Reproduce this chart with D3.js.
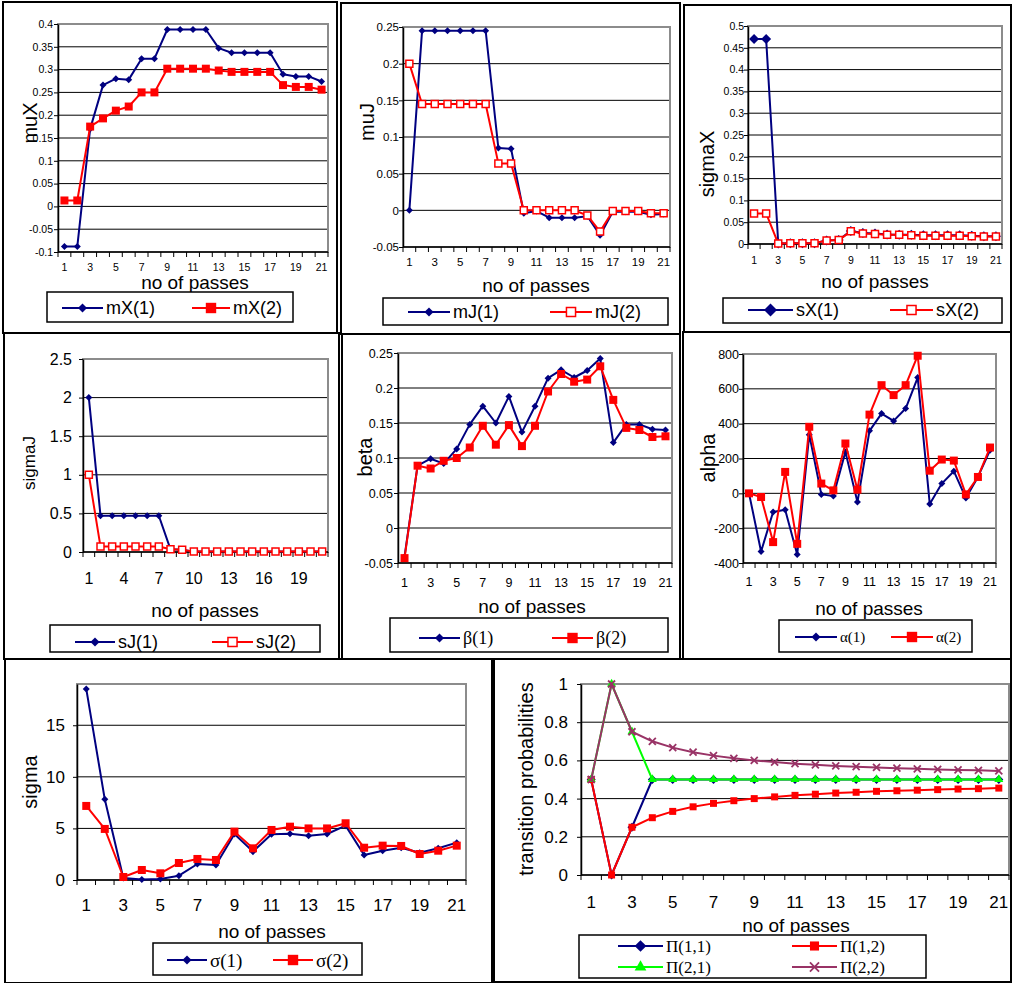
<!DOCTYPE html>
<html>
<head>
<meta charset="utf-8">
<script src="https://cdn.jsdelivr.net/npm/d3@7"></script>
<style>
  body { margin: 0; background: #fff; overflow: hidden; }
  svg { display: block; }
</style>
</head>
<body>
<script>
/* categories (no of passes) and tick labels */
var passes = [1, 2, 3, 4, 5, 6, 7, 8, 9, 10, 11, 12, 13, 14, 15, 16, 17, 18, 19, 20, 21];
var oddLabels = [1, 3, 5, 7, 9, 11, 13, 15, 17, 19, 21];
var thirdLabels = [1, 4, 7, 10, 13, 16, 19];

/* muX */
var mX1 = [-0.088, -0.088, 0.17, 0.266, 0.28, 0.278, 0.324, 0.324, 0.388, 0.388, 0.388, 0.388, 0.347, 0.337, 0.337, 0.337, 0.337, 0.29, 0.285, 0.285, 0.274];
var mX2 = [0.013, 0.013, 0.175, 0.193, 0.21, 0.219, 0.25, 0.25, 0.302, 0.302, 0.302, 0.302, 0.298, 0.295, 0.295, 0.295, 0.295, 0.266, 0.262, 0.262, 0.256];
var muXTicks = [-0.1, -0.05, 0, 0.05, 0.1, 0.15, 0.2, 0.25, 0.3, 0.35, 0.4];

/* muJ */
var mJ1 = [0, 0.245, 0.245, 0.245, 0.245, 0.245, 0.245, 0.085, 0.084, -0.004, -0.001, -0.01, -0.01, -0.01, -0.008, -0.034, -0.002, -0.002, -0.002, -0.006, -0.005];
var mJ2 = [0.2, 0.145, 0.145, 0.145, 0.145, 0.145, 0.145, 0.064, 0.064, 0, 0, 0, 0, 0, -0.007, -0.029, -0.001, -0.001, -0.001, -0.004, -0.004];
var muJTicks = [-0.05, 0, 0.05, 0.1, 0.15, 0.2, 0.25];

/* sigmaX */
var sX1 = [0.47, 0.47, 0.001, 0.002, 0.002, 0.002, 0.008, 0.009, 0.03, 0.025, 0.024, 0.022, 0.021, 0.021, 0.02, 0.02, 0.02, 0.02, 0.019, 0.018, 0.018];
var sX2 = [0.07, 0.07, 0.001, 0.002, 0.002, 0.002, 0.008, 0.009, 0.029, 0.024, 0.023, 0.021, 0.021, 0.02, 0.019, 0.019, 0.019, 0.019, 0.018, 0.017, 0.017];
var sigmaXTicks = [0, 0.05, 0.1, 0.15, 0.2, 0.25, 0.3, 0.35, 0.4, 0.45, 0.5];

/* sigmaJ */
var sJ1 = [2, 0.47, 0.47, 0.47, 0.47, 0.47, 0.47, 0.035, 0.03, 0.005, 0.005, 0.005, 0.005, 0.005, 0.005, 0.008, 0.005, 0.005, 0.005, 0.005, 0.005];
var sJ2 = [1, 0.07, 0.07, 0.07, 0.07, 0.07, 0.07, 0.035, 0.03, 0.005, 0.005, 0.005, 0.005, 0.005, 0.005, 0.005, 0.005, 0.005, 0.005, 0.005, 0.005];
var sigmaJTicks = [0, 0.5, 1, 1.5, 2, 2.5];

/* beta */
var beta1 = [-0.041, 0.089, 0.099, 0.092, 0.113, 0.148, 0.174, 0.15, 0.188, 0.137, 0.174, 0.214, 0.226, 0.215, 0.225, 0.242, 0.122, 0.148, 0.148, 0.141, 0.14];
var beta2 = [-0.043, 0.089, 0.085, 0.096, 0.1, 0.115, 0.146, 0.119, 0.147, 0.117, 0.146, 0.195, 0.22, 0.209, 0.212, 0.231, 0.183, 0.143, 0.14, 0.13, 0.131];
var betaTicks = [-0.05, 0, 0.05, 0.1, 0.15, 0.2, 0.25];

/* alpha */
var alpha1 = [0, -334, -107, -94, -351, 337, -6, -15, 238, -50, 359, 458, 416, 487, 665, -61, 56, 127, -27, 94, 247];
var alpha2 = [0, -21, -280, 123, -290, 382, 56, 17, 286, 21, 452, 621, 564, 621, 790, 130, 194, 188, -6, 94, 263];
var alphaTicks = [-400, -200, 0, 200, 400, 600, 800];

/* sigma */
var sig1 = [18.52, 7.82, 0.2, 0.06, 0.1, 0.42, 1.55, 1.45, 4.46, 2.75, 4.43, 4.49, 4.3, 4.46, 5.27, 2.42, 2.84, 3.13, 2.65, 3.07, 3.62];
var sig2 = [7.18, 4.95, 0.29, 0.97, 0.65, 1.65, 2.04, 1.94, 4.69, 3.07, 4.85, 5.17, 5.0, 5.0, 5.5, 3.13, 3.33, 3.3, 2.52, 2.84, 3.33];
var sigmaTicks = [0, 5, 10, 15];

/* transition probabilities */
var pi11 = [0.5, 0, 0.25, 0.5, 0.5, 0.5, 0.5, 0.5, 0.5, 0.5, 0.5, 0.5, 0.5, 0.5, 0.5, 0.5, 0.5, 0.5, 0.5, 0.5, 0.5];
var pi12 = [0.5, 0, 0.25, 0.3, 0.333, 0.357, 0.375, 0.389, 0.4, 0.409, 0.417, 0.423, 0.429, 0.433, 0.438, 0.441, 0.444, 0.447, 0.45, 0.452, 0.455];
var pi21 = [0.5, 1, 0.75, 0.5, 0.5, 0.5, 0.5, 0.5, 0.5, 0.5, 0.5, 0.5, 0.5, 0.5, 0.5, 0.5, 0.5, 0.5, 0.5, 0.5, 0.5];
var pi22 = [0.5, 1, 0.75, 0.7, 0.667, 0.643, 0.625, 0.611, 0.6, 0.591, 0.583, 0.577, 0.571, 0.567, 0.563, 0.559, 0.556, 0.553, 0.55, 0.548, 0.545];
var piTicks = [0, 0.2, 0.4, 0.6, 0.8, 1];

var NAVY = '#000080', RED = '#ff0000', LIME = '#00ff00', PLUM = '#993366';
var SANS = 'Liberation Sans, Arial, sans-serif';
var SERIF = 'Liberation Serif, Times New Roman, serif';

var svg = d3.select('body').append('svg')
  .attr('width', 1013)
  .attr('height', 983);

function drawMarker(g, type, w, color, hollow) {
  var path;
  if (type === 'diamond') path = g.append('path').attr('d', d3.symbol(d3.symbolSquare, w * w / 2)());
  if (type === 'square') path = g.append('path').attr('d', d3.symbol(d3.symbolSquare, w * w)());
  if (type === 'triangle') path = g.append('path').attr('d', d3.symbol(d3.symbolTriangle, w * w * 0.433)());
  if (type === 'x') {
    var a = w / 2;
    return g.append('path').attr('d', 'M' + (-a) + ',' + (-a) + 'L' + a + ',' + a + 'M' + (-a) + ',' + a + 'L' + a + ',' + (-a))
      .attr('fill', 'none').attr('stroke', color).attr('stroke-width', 1.8);
  }
  if (hollow) {
    path.attr('fill', '#fff').attr('stroke', color).attr('stroke-width', 1.5);
  } else {
    path.attr('fill', color);
  }
  return path;
}

function placeMarkers(g, s, cx, cy) {
  s.values.forEach(function(v, i) {
    var m = g.append('g')
      .attr('transform', 'translate(' + cx(i) + ',' + cy(v) + ')');
    var inner = m.append('g').attr('transform', s.marker === 'diamond' ? 'rotate(45)' : null);
    drawMarker(inner, s.marker, s.size, s.color, s.hollow);
  });
}

function drawPanel(p) {
  var g = svg.append('g');
  var pl = p.plot;
  var x = d3.scaleBand().domain(passes).range([pl.l, pl.r]);
  var y = d3.scaleLinear().domain(p.yDomain).range([pl.b, pl.t]);
  var cx = function(i) { return x(passes[i]) + x.bandwidth() / 2; };

  // outer frame of the chart
  g.append('rect')
    .attr('x', p.frame[0]).attr('y', p.frame[1])
    .attr('width', p.frame[2] - p.frame[0]).attr('height', p.frame[3] - p.frame[1])
    .attr('fill', '#fff').attr('stroke', '#000').attr('stroke-width', 2);

  // gridlines
  g.selectAll('line.grid')
    .data(p.yTicks.filter(function(v) { return y(v) < pl.b - 1 && y(v) > pl.t + 1; }))
    .enter().append('line')
    .attr('x1', pl.l).attr('x2', pl.r)
    .attr('y1', function(d) { return y(d); })
    .attr('y2', function(d) { return y(d); })
    .attr('stroke', '#000').attr('stroke-width', 1);

  // plot area border
  g.append('rect')
    .attr('x', pl.l).attr('y', pl.t)
    .attr('width', pl.r - pl.l).attr('height', pl.b - pl.t)
    .attr('fill', 'none').attr('stroke', '#8c8c8c').attr('stroke-width', 2);

  // y axis
  var ya = g.append('g')
    .attr('transform', 'translate(' + pl.l + ',0)')
    .call(d3.axisLeft(y).tickValues(p.yTicks).tickSize(4).tickSizeOuter(0)
      .tickPadding(p.yGap - 4).tickFormat(function(d) { return String(d); }));
  ya.attr('font-family', SANS).attr('font-size', p.tickFont);
  ya.selectAll('text').attr('fill', '#000');
  ya.selectAll('line').attr('stroke', '#000');
  ya.select('.domain').attr('stroke', '#000').attr('stroke-width', 1.5);

  // x axis line and tick marks between categories
  g.append('line')
    .attr('x1', pl.l).attr('x2', pl.r).attr('y1', pl.b).attr('y2', pl.b)
    .attr('stroke', '#000').attr('stroke-width', 1.5);
  g.selectAll('line.xt')
    .data(passes.map(function(c) { return x(c); }).concat([pl.r]))
    .enter().append('line')
    .attr('x1', function(d) { return d; }).attr('x2', function(d) { return d; })
    .attr('y1', pl.b).attr('y2', pl.b + 5)
    .attr('stroke', '#000').attr('stroke-width', 1);
  g.selectAll('text.xl')
    .data(p.xLabels)
    .enter().append('text')
    .attr('x', function(d) { return x(d) + x.bandwidth() / 2; })
    .attr('y', p.xLabelY)
    .attr('dy', '0.35em')
    .attr('text-anchor', 'middle')
    .attr('font-family', SANS).attr('font-size', p.xTickFont || p.tickFont)
    .text(function(d) { return d; });

  // axis titles
  g.append('text')
    .attr('transform', 'translate(' + p.yTitle[0] + ',' + p.yTitle[1] + ') rotate(-90)')
    .attr('dy', '0.35em').attr('text-anchor', 'middle')
    .attr('font-family', SANS).attr('font-size', p.yTitleFont)
    .text(p.yLabel);
  g.append('text')
    .attr('x', p.xTitle[0]).attr('y', p.xTitle[1])
    .attr('dy', '0.35em').attr('text-anchor', 'middle')
    .attr('font-family', SANS).attr('font-size', 19)
    .text('no of passes');

  // series
  var line = d3.line()
    .x(function(d, i) { return cx(i); })
    .y(function(d) { return y(d); });
  p.series.forEach(function(s) {
    g.append('path')
      .attr('d', line(s.values))
      .attr('fill', 'none').attr('stroke', s.color).attr('stroke-width', 2)
      .attr('stroke-linejoin', 'round');
    placeMarkers(g, s, cx, y);
  });

  // legend
  var lg = p.legend;
  g.append('rect')
    .attr('x', lg.box[0]).attr('y', lg.box[1])
    .attr('width', lg.box[2] - lg.box[0]).attr('height', lg.box[3] - lg.box[1])
    .attr('fill', '#fff').attr('stroke', '#000').attr('stroke-width', 1.5);
  lg.items.forEach(function(it, k) {
    var s = p.series[k];
    g.append('line')
      .attr('x1', it[0]).attr('x2', it[1]).attr('y1', it[2]).attr('y2', it[2])
      .attr('stroke', s.color).attr('stroke-width', 2);
    var m = g.append('g').attr('transform', 'translate(' + (it[0] + it[1]) / 2 + ',' + it[2] + ')')
      .append('g').attr('transform', s.marker === 'diamond' ? 'rotate(45)' : null);
    drawMarker(m, s.marker, s.size * 1.3, s.color, s.hollow);
    g.append('text')
      .attr('x', it[1] + 3).attr('y', it[2])
      .attr('dy', '0.35em')
      .attr('font-family', lg.serif ? SERIF : SANS).attr('font-size', lg.font)
      .text(s.name);
  });
}

var panels = [
  {
    frame: [3, 2, 337, 333], plot: { l: 58, t: 24, r: 328, b: 252 },
    yDomain: [-0.1, 0.4], yTicks: muXTicks, yGap: 5, tickFont: 10.5,
    xLabels: oddLabels, xLabelY: 267,
    yLabel: 'muX', yTitle: [30, 123], yTitleFont: 20, xTitle: [195, 282],
    series: [
      { name: 'mX(1)', values: mX1, color: NAVY, marker: 'diamond', size: 7 },
      { name: 'mX(2)', values: mX2, color: RED, marker: 'square', size: 8 }
    ],
    legend: { box: [47, 292, 293, 322], font: 18, items: [[62, 103, 308], [192, 230, 308]] }
  },
  {
    frame: [341, 3, 680, 334], plot: { l: 403, t: 27, r: 670, b: 247 },
    yDomain: [-0.05, 0.25], yTicks: muJTicks, yGap: 4, tickFont: 11.5,
    xLabels: oddLabels, xLabelY: 262,
    yLabel: 'muJ', yTitle: [367, 122], yTitleFont: 20, xTitle: [536, 285],
    series: [
      { name: 'mJ(1)', values: mJ1, color: NAVY, marker: 'diamond', size: 7 },
      { name: 'mJ(2)', values: mJ2, color: RED, marker: 'square', size: 7, hollow: true }
    ],
    legend: { box: [383, 298, 668, 325], font: 18, items: [[408, 450, 312], [550, 592, 312]] }
  },
  {
    frame: [684, 5, 1011, 332], plot: { l: 748, t: 26, r: 1002, b: 244 },
    yDomain: [0, 0.5], yTicks: sigmaXTicks, yGap: 4, tickFont: 10.5,
    xLabels: oddLabels, xLabelY: 260,
    yLabel: 'sigmaX', yTitle: [707, 164], yTitleFont: 20, xTitle: [875, 281],
    series: [
      { name: 'sX(1)', values: sX1, color: NAVY, marker: 'diamond', size: 10 },
      { name: 'sX(2)', values: sX2, color: RED, marker: 'square', size: 7, hollow: true }
    ],
    legend: { box: [723, 298, 1002, 323], font: 18, items: [[748, 793, 310], [890, 933, 310]] }
  },
  {
    frame: [4, 333, 339, 659], plot: { l: 83, t: 359, r: 328, b: 552 },
    yDomain: [0, 2.5], yTicks: sigmaJTicks, yGap: 11, tickFont: 16,
    xLabels: thirdLabels, xLabelY: 578,
    yLabel: 'sigmaJ', yTitle: [29, 463], yTitleFont: 17, xTitle: [205, 610],
    series: [
      { name: 'sJ(1)', values: sJ1, color: NAVY, marker: 'diamond', size: 7 },
      { name: 'sJ(2)', values: sJ2, color: RED, marker: 'square', size: 7, hollow: true }
    ],
    legend: { box: [50, 625, 320, 652], font: 18, items: [[75, 115, 642], [212, 253, 642]] }
  },
  {
    frame: [342, 334, 680, 659], plot: { l: 398, t: 353, r: 672, b: 563 },
    yDomain: [-0.05, 0.25], yTicks: betaTicks, yGap: 5, tickFont: 12.5,
    xLabels: oddLabels, xLabelY: 583,
    yLabel: 'beta', yTitle: [365, 457], yTitleFont: 20, xTitle: [532, 606],
    series: [
      { name: '\u03b2(1)', values: beta1, color: NAVY, marker: 'diamond', size: 7 },
      { name: '\u03b2(2)', values: beta2, color: RED, marker: 'square', size: 8 }
    ],
    legend: { box: [390, 618, 668, 652], font: 18, serif: true, items: [[419, 460, 638], [552, 593, 638]] }
  },
  {
    frame: [683, 332, 1011, 659], plot: { l: 743, t: 354, r: 996, b: 563 },
    yDomain: [-400, 800], yTicks: alphaTicks, yGap: 4, tickFont: 12.5,
    xLabels: oddLabels, xLabelY: 582,
    yLabel: 'alpha', yTitle: [708, 458], yTitleFont: 20, xTitle: [869, 608],
    series: [
      { name: '\u03b1(1)', values: alpha1, color: NAVY, marker: 'diamond', size: 7 },
      { name: '\u03b1(2)', values: alpha2, color: RED, marker: 'square', size: 8 }
    ],
    legend: { box: [779, 620, 972, 652], font: 15, serif: true, items: [[795, 837, 637], [891, 933, 637]] }
  },
  {
    frame: [5, 659, 492, 983], plot: { l: 77, t: 684, r: 466, b: 880 },
    yDomain: [0, 19], yTicks: sigmaTicks, yGap: 12, tickFont: 17,
    xLabels: oddLabels, xLabelY: 905,
    yLabel: 'sigma', yTitle: [30, 782], yTitleFont: 20, xTitle: [272, 931],
    series: [
      { name: '\u03c3(1)', values: sig1, color: NAVY, marker: 'diamond', size: 7 },
      { name: '\u03c3(2)', values: sig2, color: RED, marker: 'square', size: 8 }
    ],
    legend: { box: [153, 943, 362, 975], font: 19, serif: true, items: [[167, 207, 960], [273, 313, 960]] }
  },
  {
    frame: [494, 659, 1011, 982], plot: { l: 581, t: 684, r: 1009, b: 875 },
    yDomain: [0, 1], yTicks: piTicks, yGap: 13, tickFont: 17,
    xLabels: oddLabels, xLabelY: 902,
    yLabel: 'transition probabilities', yTitle: [526, 779], yTitleFont: 20, xTitle: [796, 925],
    series: [
      { name: '\u03a0(1,1)', values: pi11, color: NAVY, marker: 'diamond', size: 9 },
      { name: '\u03a0(1,2)', values: pi12, color: RED, marker: 'square', size: 7 },
      { name: '\u03a0(2,1)', values: pi21, color: LIME, marker: 'triangle', size: 9 },
      { name: '\u03a0(2,2)', values: pi22, color: PLUM, marker: 'x', size: 7 }
    ],
    legend: { box: [579, 935, 926, 978], font: 17, serif: true,
      items: [[618, 663, 946], [792, 837, 946], [618, 663, 967], [792, 837, 967]] }
  }
];

panels.forEach(drawPanel);
</script>
</body>
</html>
